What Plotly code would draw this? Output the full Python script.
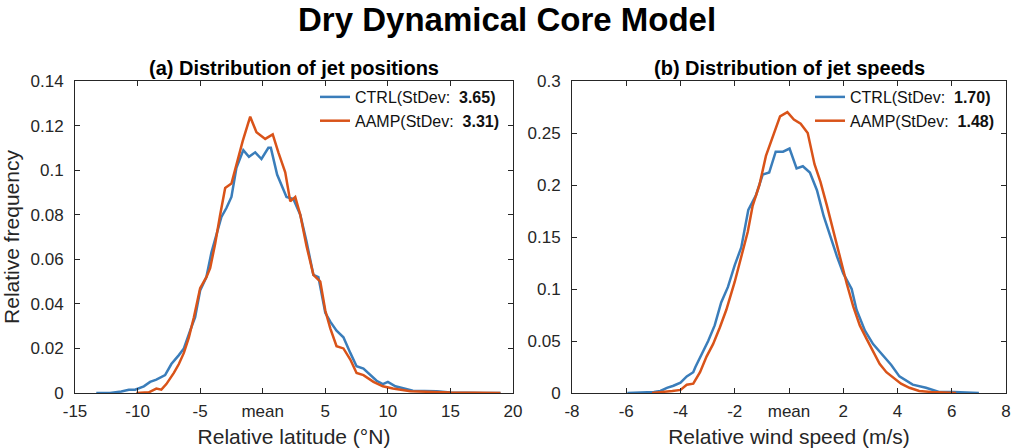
import plotly.graph_objects as go

# Panel (a): jet positions
pos_ctrl_x = [-13.3, -12.2, -11.3, -10.7, -10.2, -9.5, -9.0, -8.5, -7.8, -7.3, -6.7, -6.3, -5.8, -5.4, -5.0,
              -4.5, -4.1, -3.7, -3.3, -2.9, -2.5, -2.1, -1.55, -1.1, -0.6, -0.1, 0.45, 0.65, 1.15, 1.9, 2.45,
              3.0, 3.5, 4.05, 4.45, 5.0, 5.4, 5.9, 6.45, 7.0, 7.5, 8.05, 8.6, 9.1, 9.6, 10.0, 10.6, 11.2, 12.0,
              13.9, 15.0, 17.6, 19.0]
pos_ctrl_y = [0.0, 0.0, 0.0007, 0.0015, 0.0015, 0.003, 0.005, 0.006, 0.008, 0.013, 0.017, 0.020, 0.028, 0.034,
              0.046, 0.052, 0.063, 0.071, 0.079, 0.083, 0.088, 0.101, 0.109, 0.106, 0.108, 0.105, 0.110, 0.110,
              0.098, 0.088, 0.087, 0.080, 0.068, 0.053, 0.052, 0.036, 0.032, 0.028, 0.025, 0.018, 0.012, 0.011,
              0.008, 0.0055, 0.004, 0.005, 0.003, 0.002, 0.001, 0.0008, 0.0002, 0.0, 0.0]
pos_aamp_x = [-10.1, -9.1, -8.5, -8.1, -7.7, -7.1, -6.7, -6.3, -5.9, -5.5, -5.0, -4.5, -4.2, -3.8, -3.4, -3.0,
              -2.5, -2.1, -1.6, -1.0, -0.5, 0.2, 0.8, 1.25, 1.8, 2.2, 2.6, 3.0, 3.5, 4.05, 4.6, 5.0, 5.4, 5.9,
              6.45, 7.0, 7.5, 8.05, 8.85, 9.6, 10.4, 11.8, 13.1, 15.0, 19.0]
pos_aamp_y = [0.0, 0.0003, 0.002, 0.0015, 0.004, 0.009, 0.013, 0.018, 0.025, 0.034, 0.047, 0.052, 0.056, 0.067,
              0.080, 0.092, 0.094, 0.103, 0.113, 0.124, 0.117, 0.114, 0.116, 0.108, 0.099, 0.086, 0.088, 0.080,
              0.066, 0.053, 0.050, 0.037, 0.029, 0.021, 0.020, 0.015, 0.009, 0.008, 0.005, 0.003, 0.002, 0.0008,
              0.0005, 0.0002, 0.0]

# Panel (b): jet speeds
spd_ctrl_x = [-5.96, -5.4, -4.98, -4.74, -4.5, -4.26, -4.0, -3.77, -3.53, -3.45, -3.22, -2.98, -2.74, -2.5,
              -2.25, -2.0, -1.76, -1.5, -1.22, -0.97, -0.73, -0.49, -0.22, 0.02, 0.28, 0.51, 0.77, 1.03, 1.28,
              1.52, 1.76, 2.0, 2.31, 2.49, 2.8, 3.1, 3.47, 3.77, 4.07, 4.32, 4.56, 5.05, 5.53, 6.08, 7.0]
spd_ctrl_y = [0.0, 0.0005, 0.001, 0.002, 0.005, 0.007, 0.010, 0.016, 0.020, 0.025, 0.037, 0.050, 0.065, 0.087,
              0.102, 0.123, 0.140, 0.176, 0.190, 0.210, 0.212, 0.232, 0.232, 0.235, 0.216, 0.218, 0.212, 0.195,
              0.170, 0.150, 0.132, 0.115, 0.100, 0.080, 0.060, 0.047, 0.036, 0.027, 0.016, 0.012, 0.008, 0.005,
              0.001, 0.001, 0.0]
spd_aamp_x = [-5.05, -4.56, -4.3, -4.0, -3.77, -3.53, -3.28, -3.04, -2.8, -2.55, -2.31, -2.0, -1.76, -1.52,
              -1.34, -1.09, -0.85, -0.58, -0.33, -0.06, 0.18, 0.43, 0.69, 0.94, 1.16, 1.4, 1.64, 1.88, 2.13,
              2.37, 2.61, 2.86, 3.1, 3.34, 3.59, 3.89, 4.13, 4.44, 4.8, 5.23, 5.77, 6.16]
spd_aamp_y = [0.0, 0.001, 0.002, 0.003, 0.008, 0.009, 0.020, 0.035, 0.047, 0.063, 0.080, 0.107, 0.130, 0.155,
              0.180, 0.200, 0.228, 0.248, 0.266, 0.270, 0.263, 0.259, 0.250, 0.220, 0.203, 0.180, 0.155, 0.130,
              0.105, 0.083, 0.065, 0.052, 0.040, 0.028, 0.020, 0.014, 0.009, 0.005, 0.002, 0.001, 0.0003, 0.0]

pos_ticks = [-15, -10, -5, 0, 5, 10, 15, 20]
pos_ticktext = ["-15", "-10", "-5", "mean", "5", "10", "15", "20"]
spd_ticks = [-8, -6, -4, -2, 0, 2, 4, 6, 8]
spd_ticktext = ["-8", "-6", "-4", "-2", "mean", "2", "4", "6", "8"]

names_a = ["CTRL(StDev:  <b>3.65)</b>", "AAMP(StDev:  <b>3.31)</b>"]
names_b = ["CTRL(StDev:  <b>1.70)</b>", "AAMP(StDev:  <b>1.48)</b>"]

BLUE = "#3A7DBA"
ORANGE = "#D95319"
FONT = "Liberation Sans, Arial, sans-serif"
AX = "#262626"

fig = go.Figure()
fig.add_trace(go.Scatter(x=pos_ctrl_x, y=pos_ctrl_y, mode="lines", name=names_a[0],
                         line=dict(color=BLUE, width=2.5), xaxis="x", yaxis="y", legend="legend"))
fig.add_trace(go.Scatter(x=pos_aamp_x, y=pos_aamp_y, mode="lines", name=names_a[1],
                         line=dict(color=ORANGE, width=2.5), xaxis="x", yaxis="y", legend="legend"))
fig.add_trace(go.Scatter(x=spd_ctrl_x, y=spd_ctrl_y, mode="lines", name=names_b[0],
                         line=dict(color=BLUE, width=2.5), xaxis="x2", yaxis="y2", legend="legend2"))
fig.add_trace(go.Scatter(x=spd_aamp_x, y=spd_aamp_y, mode="lines", name=names_b[1],
                         line=dict(color=ORANGE, width=2.5), xaxis="x2", yaxis="y2", legend="legend2"))

W, H = 1014, 448
yd = [(H - 393) / H, (H - 81) / H]
common = dict(showgrid=False, zeroline=False, showline=True, linecolor=AX, linewidth=1, mirror="ticks",
              ticks="inside", ticklen=5, tickcolor=AX, automargin=False, ticklabeloverflow="allow",
              tickfont=dict(family=FONT, size=17, color=AX))
xcommon = dict(ticklabelstandoff=3, **common)
ycommon = dict(ticklabelstandoff=7, **common)
tfont = dict(family=FONT, size=21, color=AX)

fig.update_layout(
    template="none",
    width=W, height=H, margin=dict(l=0, r=0, t=0, b=0, pad=0),
    paper_bgcolor="white", plot_bgcolor="white",
    font=dict(family=FONT, color=AX),
    xaxis=dict(domain=[75 / W, 513 / W], range=[-15, 20], tickvals=pos_ticks, ticktext=pos_ticktext,
               anchor="y", title=dict(text="Relative latitude (°N)", font=tfont, standoff=10), **xcommon),
    yaxis=dict(domain=yd, range=[0, 0.14], dtick=0.02, anchor="x",
               title=dict(text="Relative frequency", font=tfont, standoff=5), **ycommon),
    xaxis2=dict(domain=[572 / W, 1006 / W], range=[-8, 8], tickvals=spd_ticks, ticktext=spd_ticktext,
                anchor="y2", title=dict(text="Relative wind speed (m/s)", font=tfont, standoff=10), **xcommon),
    yaxis2=dict(domain=yd, range=[0, 0.3], dtick=0.05, anchor="x2", **ycommon),
    legend=dict(x=505 / W, y=(H - 80) / H, xanchor="right", yanchor="top", bgcolor="rgba(0,0,0,0)",
                borderwidth=0, font=dict(family=FONT, size=16, color="#111"), itemwidth=30, tracegroupgap=0),
    legend2=dict(x=1000 / W, y=(H - 80) / H, xanchor="right", yanchor="top", bgcolor="rgba(0,0,0,0)",
                 borderwidth=0, font=dict(family=FONT, size=16, color="#111"), itemwidth=30, tracegroupgap=0),
    showlegend=True,
    annotations=[
        dict(text="<b>Dry Dynamical Core Model</b>", x=0.5, y=(H - 19) / H, xref="paper", yref="paper",
             showarrow=False, font=dict(family=FONT, size=33, color="black"), xanchor="center",
             yanchor="middle"),
        dict(text="<b>(a) Distribution of jet positions</b>", x=294 / W, y=(H - 68) / H, xref="paper",
             yref="paper", showarrow=False, font=dict(family=FONT, size=20, color="black"),
             xanchor="center", yanchor="middle"),
        dict(text="<b>(b) Distribution of jet speeds</b>", x=789 / W, y=(H - 68) / H, xref="paper",
             yref="paper", showarrow=False, font=dict(family=FONT, size=20, color="black"),
             xanchor="center", yanchor="middle"),
    ],
)

fig.write_html("out.html")
